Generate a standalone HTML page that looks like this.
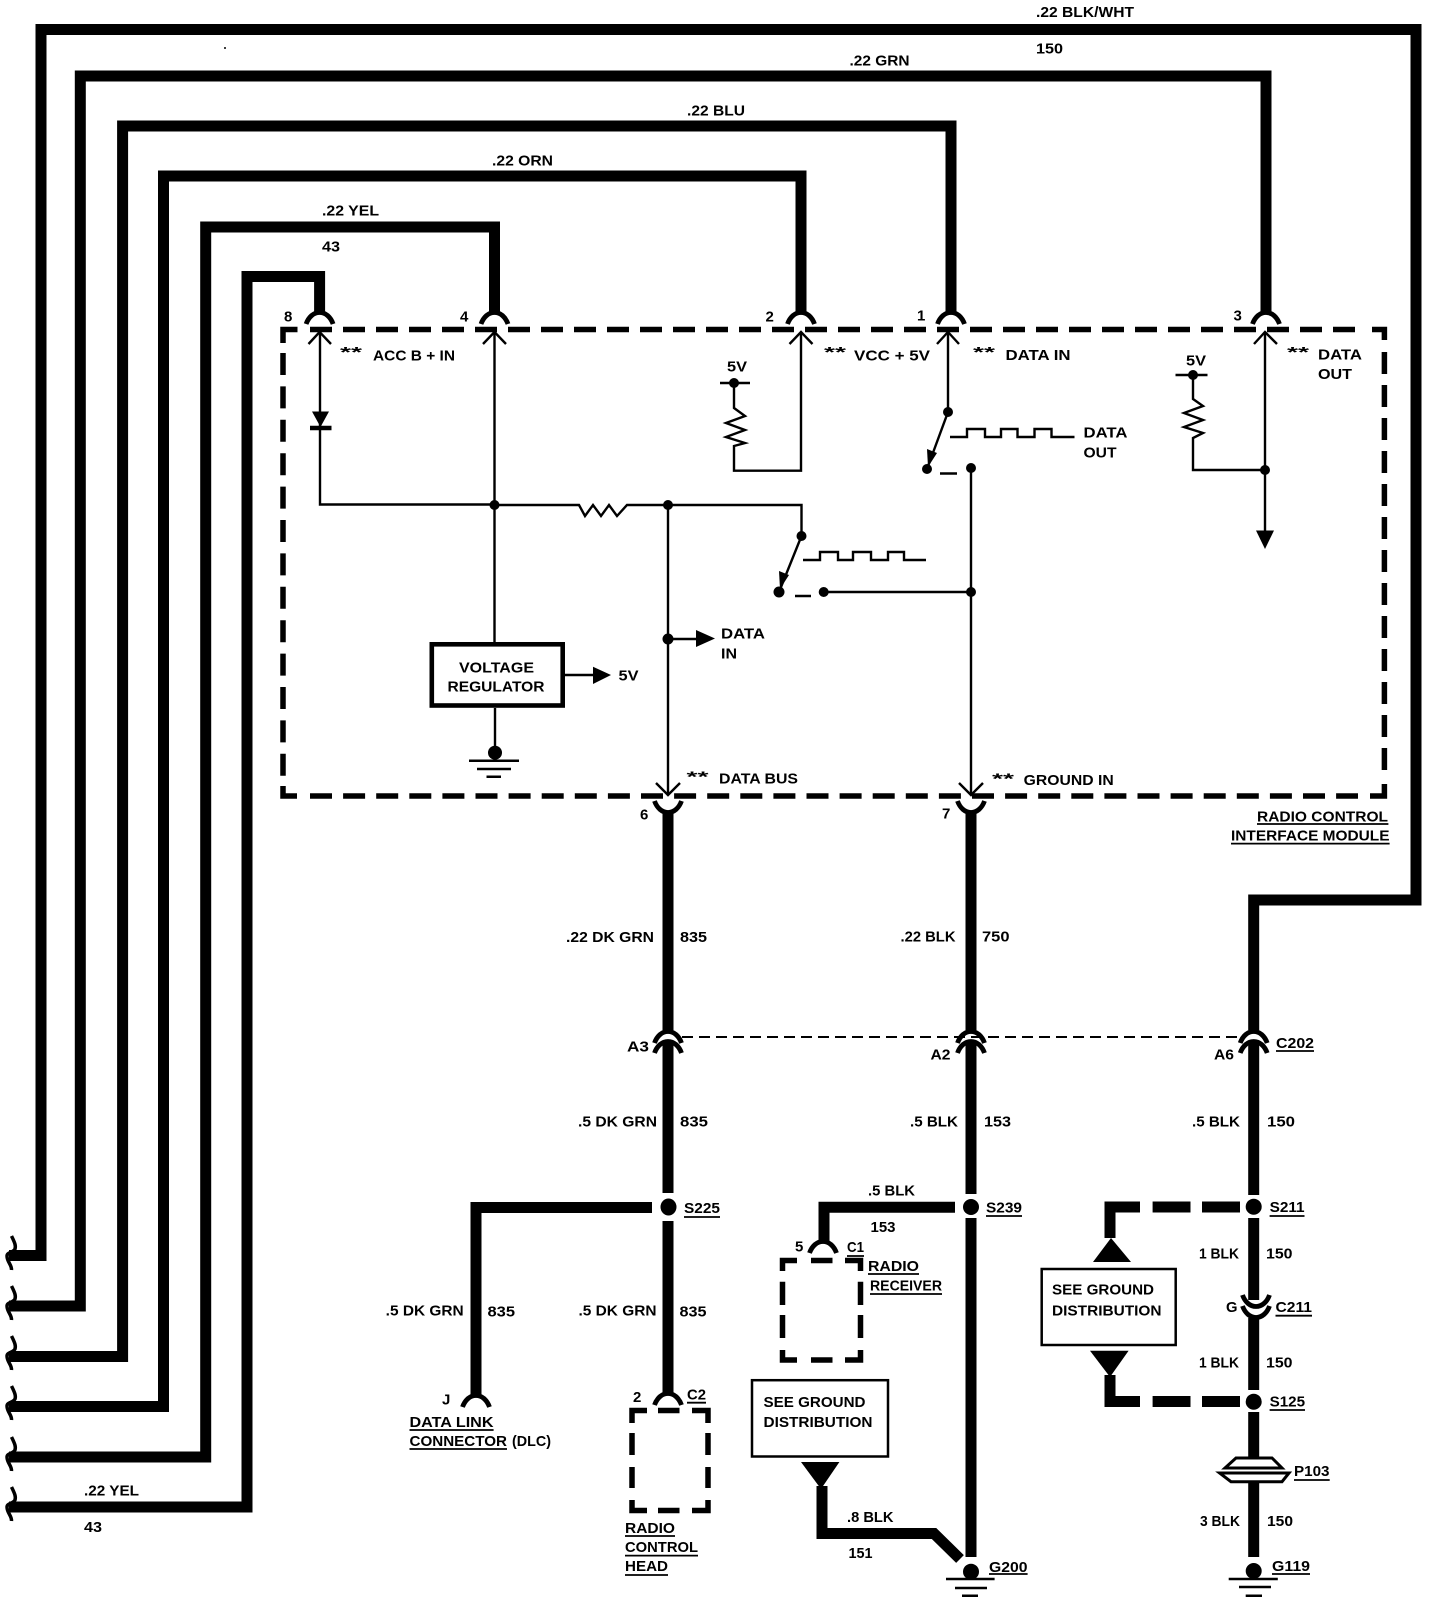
<!DOCTYPE html>
<html><head><meta charset="utf-8"><style>
html,body{margin:0;padding:0;background:#fff}
svg{display:block}
text{font-family:"Liberation Sans",sans-serif;font-weight:bold;font-size:15px;fill:#000}
</style></head><body>
<svg xmlns="http://www.w3.org/2000/svg" width="1440" height="1604" viewBox="0 0 1440 1604">
<rect width="1440" height="1604" fill="#fff"/>
<defs>
<path id="fr" d="M-13.500,12 C-11,5 -6,0.500 0,0.500 C6,0.500 11,5 13.500,12" fill="none" stroke="#000" stroke-width="4.800"/>
<path id="sm" d="M-13.500,-12 C-11,-5 -6,-0.500 0,-0.500 C6,-0.500 11,-5 13.500,-12" fill="none" stroke="#000" stroke-width="4.800"/>
<path id="br" d="M11.500,-18 C15,-11 16,-8 15,-5 C13,-1 7,-2 7,2 C7,8 12,11 11.500,16" fill="none" stroke="#000" stroke-width="3.500"/>
</defs>

<!-- heavy harness wires -->
<g fill="none" stroke="#000" stroke-linejoin="miter">
<g stroke-width="11">
<path d="M9,1255.500 H41 V29.500 H1416 V900 H1253.700 V1030"/>
<path d="M9,1306 H80.300 V76 H1266 V313"/>
<path d="M9,1356.500 H122.600 V126 H951 V313"/>
<path d="M9,1406.500 H163.500 V176 H801 V313"/>
<path d="M9,1457 H205.700 V227 H494.500 V313"/>
<path d="M9,1507 H247 V276.500 H319.600 V313"/>
<path d="M668,812 V1030"/>
<path d="M971,812 V1030"/>
<path d="M668,1042 V1193"/>
<path d="M971,1042 V1194"/>
<path d="M1253.700,1042 V1195"/>
<path d="M668,1221 V1394"/>
<path d="M652,1207.500 H476 V1396"/>
<path d="M971,1218 V1557"/>
<path d="M955,1207.300 H824 V1242"/>
<path d="M1253.700,1218 V1300"/>
<path d="M1253.700,1318 V1390"/>
<path d="M1253.700,1412 V1458"/>
<path d="M1253.700,1482 V1557"/>
<path d="M822,1486 V1533.500 H934 L960,1559"/>
<path d="M1110,1238 V1207 H1140"/>
<path d="M1152.600,1207 H1190.500 M1202,1207 H1240"/>
<path d="M1110,1375 V1401.500 H1140"/>
<path d="M1152.600,1401.500 H1190.500 M1202,1401.500 H1240"/>
</g>
</g>
<use href="#br" x="0" y="1254"/><use href="#br" x="0" y="1304"/><use href="#br" x="0" y="1354"/>
<use href="#br" x="0" y="1404"/><use href="#br" x="0" y="1455"/><use href="#br" x="0" y="1505"/>

<!-- module dashed box -->
<g fill="none" stroke="#000" stroke-width="5.500">
<path d="M310,329.500 H1360" stroke-dasharray="22 11"/>
<path d="M310,796 H1358" stroke-dasharray="22 11.100"/>
<path d="M283,353 V776" stroke-dasharray="22 11.400"/>
<path d="M1384.400,352 V772" stroke-dasharray="22 11"/>
<path d="M283,343 V329.500 H297.500"/>
<path d="M1372,329.500 H1384.400 V340"/>
<path d="M283,786 V796 H297"/>
<path d="M1370,796 H1384.400 V784"/>
</g>

<!-- connectors -->
<use href="#fr" x="319.600" y="312"/><use href="#fr" x="494.500" y="312"/><use href="#fr" x="801" y="312"/>
<use href="#fr" x="951" y="312"/><use href="#fr" x="1266" y="312"/>
<use href="#sm" x="668" y="813"/><use href="#sm" x="971" y="813"/>
<use href="#fr" x="668" y="1031"/><use href="#fr" x="971" y="1031"/><use href="#fr" x="1253.700" y="1031"/>
<use href="#fr" x="668" y="1041"/><use href="#fr" x="971" y="1041"/><use href="#fr" x="1253.700" y="1041"/>
<use href="#sm" x="1256" y="1307"/><use href="#sm" x="1256" y="1318"/>
<use href="#fr" x="476" y="1395"/><use href="#fr" x="668" y="1393"/><use href="#fr" x="823" y="1241"/>
<path d="M682,1037 H1240" fill="none" stroke="#000" stroke-width="2" stroke-dasharray="11 6"/>

<!-- thin circuit wiring -->
<g fill="none" stroke="#000" stroke-width="2.400">
<path d="M308.500,344 L319.600,332 L331,344 M483,344 L494.500,332 L506,344 M789.500,344 L801,332 L812.500,344 M937,344 L948,332 L959,344 M1254,344 L1265,332 L1277,344"/>
<path d="M656,783 L668,795 L680,783 M959,783 L971,795 L983,783"/>
<path d="M320,332 V504.500 H494.500"/>
<path d="M494.500,332 V642"/>
<path d="M494.500,505 H579 L585,516 L593,505 L601,516 L609,505 L617,516 L627,505 H801.500 V536 L779,592"/>
<path d="M668,505 V795"/>
<path d="M668,639 H698"/>
<path d="M495,708 V750"/>
<path d="M565,675 H595"/>
<path d="M801,332 V470.700 H734 V446 L745,443 L726,437 L745,430 L726,423 L745,416 L734,408 V383"/>
<path d="M948,332 V412 L927,469"/>
<path d="M971,468 V795"/>
<path d="M824,592 H971"/>
<path d="M1265,332 V532"/>
<path d="M1265,470 H1193 V438 L1203,433 L1184,427 L1203,420 L1184,413 L1203,406 L1193,399 V375"/>
<path d="M803,560 H820 V552 H838 V560 H853 V552 H871 V560 H888 V552 H904 V560 H926"/>
<path d="M950,437 H967 V429 H985 V437 H1001 V429 H1017.500 V437 H1034.500 V429 H1051.500 V437 H1074.500"/>
<path d="M720,383 H750 M1175.500,375 H1207.500"/>
</g>
<path d="M795,596 H811 M940,473.500 H957" stroke="#000" stroke-width="2.500"/>
<path d="M310,428 H331.500" stroke="#000" stroke-width="4.500"/>
<rect x="431.800" y="644.300" width="130.900" height="61.200" fill="#fff" stroke="#000" stroke-width="4.600"/>
<rect x="752" y="1380.200" width="136" height="76.300" fill="#fff" stroke="#000" stroke-width="2.500"/>
<rect x="1041.700" y="1269" width="134" height="76" fill="#fff" stroke="#000" stroke-width="2.500"/>

<!-- solid shapes -->
<g fill="#000">
<polygon points="312,411.500 329,411.500 320.500,427"/>
<polygon points="696,630 696,647 715,638.500"/>
<polygon points="593,666.700 593,684 611,675"/>
<polygon points="1256,530.500 1274,530.500 1265,549"/>
<polygon points="928,467 927,449 937,453"/>
<polygon points="780,589 779,571 789,575"/>
<polygon points="801,1462 839.400,1462 821,1489"/>
<polygon points="1111,1238 1093,1262 1131,1262"/>
<polygon points="1090,1350.700 1128.600,1350.700 1110,1377"/>
<circle cx="494.500" cy="505" r="5"/><circle cx="668" cy="505" r="5"/><circle cx="668" cy="639" r="5.500"/>
<circle cx="801.500" cy="536" r="5"/><circle cx="779" cy="592" r="5.500"/><circle cx="823.700" cy="592" r="5"/>
<circle cx="948" cy="412" r="5"/><circle cx="927" cy="469" r="5"/><circle cx="971" cy="468" r="5"/>
<circle cx="971" cy="592" r="5"/><circle cx="1265" cy="470" r="5"/>
<circle cx="734" cy="383" r="5"/><circle cx="1193" cy="375" r="5"/>
<circle cx="495" cy="752.700" r="7"/>
<ellipse cx="668.500" cy="1207" rx="8" ry="8.500"/>
<ellipse cx="971" cy="1207" rx="8" ry="8"/>
<ellipse cx="1253.700" cy="1206.700" rx="8" ry="8"/>
<ellipse cx="1253.700" cy="1401.700" rx="8" ry="8"/>
<ellipse cx="971" cy="1571.700" rx="8" ry="8"/>
<ellipse cx="1253.700" cy="1571" rx="8" ry="8"/>
<circle cx="225" cy="48" r="1"/>
</g>

<!-- grounds -->
<g stroke="#000" fill="none" stroke-width="2.500">
<path d="M469,760.700 H519 M477,769 H511 M486.500,776.700 H501"/>
<path d="M946,1579 H994.600 M955,1588 H987 M962,1595.700 H978"/>
<path d="M1228.700,1579 H1277.800 M1239,1587 H1271 M1245.700,1595.700 H1262"/>
<path d="M1236,1458 H1272 L1282,1468 H1225 Z" stroke-width="3"/>
<path d="M1219.600,1473 H1289 L1282,1481.700 H1231 Z" stroke-width="3"/>
</g>

<!-- small dashed component boxes -->
<g fill="none" stroke="#000" stroke-width="5.500">
<path d="M632,1423 V1410.500 H647 M658,1410.500 H679.500 M692,1410.500 H708 V1423 M632,1433 V1455 M708,1433 V1455 M632,1467 V1488 M708,1467 V1488 M632,1500 V1510.500 H647 M658,1510.500 H679.500 M692,1510.500 H708 V1500"/>
<path d="M782.500,1271 V1260.500 H797 M811,1260.500 H832.500 M845,1260.500 H860.500 V1271 M782.500,1281.700 V1305 M860.500,1281.700 V1305 M782.500,1315 V1338 M860.500,1315 V1338 M782.500,1350 V1360 H797 M811,1360 H832.500 M845,1360 H860.500 V1350"/>
</g>

<!-- underlines -->
<path d="M1257,824 H1388.400 M1231,843.600 H1389.600 M1276,1051 H1314 M684,1217 H720 M986,1216 H1022 M1269.600,1216 H1304.500 M1269.600,1410 H1305 M409.500,1430 H493.600 M409.500,1449 H507 M687,1402.700 H706 M625,1536 H675 M625,1555.600 H698 M625,1575 H668 M847,1256 H864 M868,1274 H919 M870,1294 H942 M989,1574 H1027.600 M1272,1574 H1310 M1275.500,1315.700 H1312 M1294,1480 H1329.700" stroke="#000" stroke-width="1.800" fill="none"/>

<!-- labels -->
<g>
<text x="1036" y="17" textLength="98" lengthAdjust="spacingAndGlyphs">.22 BLK/WHT</text>
<text x="1036" y="53.500" textLength="27" lengthAdjust="spacingAndGlyphs">150</text>
<text x="849.500" y="65.500" textLength="60" lengthAdjust="spacingAndGlyphs">.22 GRN</text>
<text x="687" y="115.500" textLength="58" lengthAdjust="spacingAndGlyphs">.22 BLU</text>
<text x="492" y="165.500" textLength="61" lengthAdjust="spacingAndGlyphs">.22 ORN</text>
<text x="322" y="215.500" textLength="57" lengthAdjust="spacingAndGlyphs">.22 YEL</text>
<text x="322" y="251.500" textLength="18" lengthAdjust="spacingAndGlyphs">43</text>
<text x="284" y="321.500">8</text>
<text x="460" y="321.500">4</text>
<text x="765.500" y="321.500">2</text>
<text x="917" y="320.500">1</text>
<text x="1233.500" y="320.500">3</text>
<text x="340" y="357" textLength="22" lengthAdjust="spacingAndGlyphs">**</text>
<text x="373" y="360.500" textLength="82" lengthAdjust="spacingAndGlyphs">ACC B + IN</text>
<text x="824" y="357" textLength="22" lengthAdjust="spacingAndGlyphs">**</text>
<text x="854" y="360.500" textLength="76" lengthAdjust="spacingAndGlyphs">VCC + 5V</text>
<text x="973" y="357" textLength="22" lengthAdjust="spacingAndGlyphs">**</text>
<text x="1005.500" y="360" textLength="65" lengthAdjust="spacingAndGlyphs">DATA IN</text>
<text x="1287" y="357" textLength="22" lengthAdjust="spacingAndGlyphs">**</text>
<text x="1318" y="359.500" textLength="44" lengthAdjust="spacingAndGlyphs">DATA</text>
<text x="1318" y="379" textLength="34" lengthAdjust="spacingAndGlyphs">OUT</text>
<text x="727" y="371.500" textLength="20" lengthAdjust="spacingAndGlyphs">5V</text>
<text x="1186" y="365.500" textLength="20" lengthAdjust="spacingAndGlyphs">5V</text>
<text x="1083.500" y="437.500" textLength="44" lengthAdjust="spacingAndGlyphs">DATA</text>
<text x="1083.500" y="457.500" textLength="33" lengthAdjust="spacingAndGlyphs">OUT</text>
<text x="721" y="638.500" textLength="44" lengthAdjust="spacingAndGlyphs">DATA</text>
<text x="721" y="658.500" textLength="16" lengthAdjust="spacingAndGlyphs">IN</text>
<text x="459" y="672.500" textLength="75" lengthAdjust="spacingAndGlyphs">VOLTAGE</text>
<text x="447.500" y="691.500" textLength="97" lengthAdjust="spacingAndGlyphs">REGULATOR</text>
<text x="618.500" y="680.500" textLength="20" lengthAdjust="spacingAndGlyphs">5V</text>
<text x="686.500" y="781.500" textLength="22" lengthAdjust="spacingAndGlyphs">**</text>
<text x="719" y="783.500" textLength="79" lengthAdjust="spacingAndGlyphs">DATA BUS</text>
<text x="992" y="783.500" textLength="22" lengthAdjust="spacingAndGlyphs">**</text>
<text x="1023.700" y="785" textLength="90" lengthAdjust="spacingAndGlyphs">GROUND IN</text>
<text x="640" y="819.500">6</text>
<text x="942" y="818.500">7</text>
<text x="1257" y="821.500" textLength="131" lengthAdjust="spacingAndGlyphs">RADIO CONTROL</text>
<text x="1231" y="840.500" textLength="158.500" lengthAdjust="spacingAndGlyphs">INTERFACE MODULE</text>
<text x="566" y="942" textLength="88" lengthAdjust="spacingAndGlyphs">.22 DK GRN</text>
<text x="680" y="942" textLength="27" lengthAdjust="spacingAndGlyphs">835</text>
<text x="900.500" y="941.500" textLength="55" lengthAdjust="spacingAndGlyphs">.22 BLK</text>
<text x="982" y="941.500" textLength="27.500" lengthAdjust="spacingAndGlyphs">750</text>
<text x="627" y="1051.500" textLength="22" lengthAdjust="spacingAndGlyphs">A3</text>
<text x="930.500" y="1059.500" textLength="20" lengthAdjust="spacingAndGlyphs">A2</text>
<text x="1214" y="1059.500" textLength="20" lengthAdjust="spacingAndGlyphs">A6</text>
<text x="1276" y="1048" textLength="38" lengthAdjust="spacingAndGlyphs">C202</text>
<text x="578" y="1126.500" textLength="79" lengthAdjust="spacingAndGlyphs">.5 DK GRN</text>
<text x="680" y="1126.500" textLength="28" lengthAdjust="spacingAndGlyphs">835</text>
<text x="910" y="1126.500" textLength="48" lengthAdjust="spacingAndGlyphs">.5 BLK</text>
<text x="984" y="1126.500" textLength="27" lengthAdjust="spacingAndGlyphs">153</text>
<text x="1192" y="1126.500" textLength="48" lengthAdjust="spacingAndGlyphs">.5 BLK</text>
<text x="1267" y="1126.500" textLength="28" lengthAdjust="spacingAndGlyphs">150</text>
<text x="868" y="1195.500" textLength="47" lengthAdjust="spacingAndGlyphs">.5 BLK</text>
<text x="870.500" y="1232" textLength="25" lengthAdjust="spacingAndGlyphs">153</text>
<text x="684" y="1213" textLength="36" lengthAdjust="spacingAndGlyphs">S225</text>
<text x="986" y="1212.500" textLength="36" lengthAdjust="spacingAndGlyphs">S239</text>
<text x="1269.600" y="1212" textLength="35" lengthAdjust="spacingAndGlyphs">S211</text>
<text x="1269.600" y="1406.500" textLength="35.500" lengthAdjust="spacingAndGlyphs">S125</text>
<text x="795" y="1251.500">5</text>
<text x="847" y="1252" textLength="17" lengthAdjust="spacingAndGlyphs">C1</text>
<text x="868" y="1271" textLength="51" lengthAdjust="spacingAndGlyphs">RADIO</text>
<text x="870" y="1290.500" textLength="72" lengthAdjust="spacingAndGlyphs">RECEIVER</text>
<text x="1199" y="1258.500" textLength="40" lengthAdjust="spacingAndGlyphs">1 BLK</text>
<text x="1266" y="1258.500" textLength="26.500" lengthAdjust="spacingAndGlyphs">150</text>
<text x="1199" y="1367.500" textLength="40" lengthAdjust="spacingAndGlyphs">1 BLK</text>
<text x="1266" y="1367.500" textLength="26.500" lengthAdjust="spacingAndGlyphs">150</text>
<text x="1226" y="1312" textLength="11.500" lengthAdjust="spacingAndGlyphs">G</text>
<text x="1275.500" y="1312" textLength="36.500" lengthAdjust="spacingAndGlyphs">C211</text>
<text x="1052" y="1294.500" textLength="102" lengthAdjust="spacingAndGlyphs">SEE GROUND</text>
<text x="1052" y="1315.500" textLength="109.500" lengthAdjust="spacingAndGlyphs">DISTRIBUTION</text>
<text x="763.500" y="1407" textLength="102" lengthAdjust="spacingAndGlyphs">SEE GROUND</text>
<text x="763.500" y="1427" textLength="109" lengthAdjust="spacingAndGlyphs">DISTRIBUTION</text>
<text x="385.700" y="1315.500" textLength="78" lengthAdjust="spacingAndGlyphs">.5 DK GRN</text>
<text x="487.500" y="1316.500" textLength="27.500" lengthAdjust="spacingAndGlyphs">835</text>
<text x="578.500" y="1315.500" textLength="78" lengthAdjust="spacingAndGlyphs">.5 DK GRN</text>
<text x="679.500" y="1316.500" textLength="27" lengthAdjust="spacingAndGlyphs">835</text>
<text x="442" y="1404.500">J</text>
<text x="633" y="1402">2</text>
<text x="687" y="1399.500" textLength="19" lengthAdjust="spacingAndGlyphs">C2</text>
<text x="409.500" y="1427" textLength="84" lengthAdjust="spacingAndGlyphs">DATA LINK</text>
<text x="409.500" y="1446" textLength="97.500" lengthAdjust="spacingAndGlyphs">CONNECTOR</text>
<text x="512" y="1446" textLength="39" lengthAdjust="spacingAndGlyphs">(DLC)</text>
<text x="625" y="1533" textLength="50" lengthAdjust="spacingAndGlyphs">RADIO</text>
<text x="625" y="1552" textLength="73" lengthAdjust="spacingAndGlyphs">CONTROL</text>
<text x="625" y="1571" textLength="43" lengthAdjust="spacingAndGlyphs">HEAD</text>
<text x="84" y="1495.500" textLength="55" lengthAdjust="spacingAndGlyphs">.22 YEL</text>
<text x="84" y="1532" textLength="18" lengthAdjust="spacingAndGlyphs">43</text>
<text x="847" y="1522" textLength="46.500" lengthAdjust="spacingAndGlyphs">.8 BLK</text>
<text x="848.500" y="1558" textLength="24" lengthAdjust="spacingAndGlyphs">151</text>
<text x="989" y="1572" textLength="38.500" lengthAdjust="spacingAndGlyphs">G200</text>
<text x="1272" y="1571" textLength="38" lengthAdjust="spacingAndGlyphs">G119</text>
<text x="1294" y="1476" textLength="35.500" lengthAdjust="spacingAndGlyphs">P103</text>
<text x="1200" y="1526" textLength="40" lengthAdjust="spacingAndGlyphs">3 BLK</text>
<text x="1267" y="1526" textLength="26" lengthAdjust="spacingAndGlyphs">150</text>
</g>
</svg>
</body></html>
